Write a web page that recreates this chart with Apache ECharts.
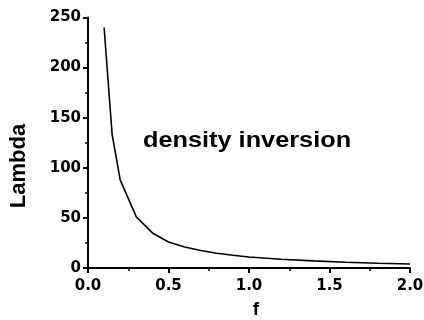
<!DOCTYPE html>
<html>
<head>
<meta charset="utf-8">
<script src="https://cdn.jsdelivr.net/npm/echarts@6/dist/echarts.min.js"></script>
<style>
html,body{margin:0;padding:0;background:#fff;}
#c{width:424px;height:320px;}
</style>
</head>
<body>
<div id="c"></div>
<script>
var fValues = [0.1, 0.15, 0.2, 0.3, 0.4, 0.5, 0.6, 0.7, 0.8, 0.9, 1.0, 1.2, 1.4, 1.6, 1.8, 2.0];
var lambdaValues = [240, 133, 88, 51, 35, 26, 21, 17.4, 14.8, 12.8, 11, 8.8, 7.1, 5.8, 4.8, 4];
var xTicks = [0, 0.5, 1.0, 1.5, 2.0];
var yTicks = [0, 50, 100, 150, 200, 250];
var annotation = 'density inversion';
var xTitle = 'f';
var yTitle = 'Lambda';

var chart = echarts.init(document.getElementById('c'), null, {renderer: 'canvas'});
var font = 'Liberation Sans, Arial, sans-serif';
var tickFont = 'DejaVu Sans, sans-serif';
var data = fValues.map(function (f, i) { return [f, lambdaValues[i]]; });

chart.setOption({
  animation: false,
  backgroundColor: '#fff',
  grid: {left: 88, right: 14, top: 17.5, bottom: 52, containLabel: false, outerBoundsMode: 'none'},
  xAxis: {
    type: 'value',
    min: xTicks[0], max: xTicks[xTicks.length - 1], interval: 0.5,
    name: xTitle, nameLocation: 'middle', nameGap: 32,
    nameTextStyle: {fontFamily: font, fontWeight: 'bold', fontSize: 19, color: '#000', padding: [0, 0, 0, 14]},
    axisLine: {show: true, onZero: false, lineStyle: {color: '#000', width: 2}},
    axisTick: {show: true, length: 5, lineStyle: {color: '#000', width: 2}},
    minorTick: {show: true, splitNumber: 2, length: 3, lineStyle: {color: '#000', width: 1.5}},
    splitLine: {show: false},
    axisLabel: {margin: 11, fontFamily: tickFont, fontWeight: 'bold', fontSize: 15, color: '#000',
      formatter: function (v) { return v.toFixed(1); }}
  },
  yAxis: {
    type: 'value',
    min: yTicks[0], max: yTicks[yTicks.length - 1], interval: 50,
    axisLine: {show: true, onZero: false, lineStyle: {color: '#000', width: 2}},
    axisTick: {show: true, length: 5, lineStyle: {color: '#000', width: 2}},
    minorTick: {show: true, splitNumber: 2, length: 3, lineStyle: {color: '#000', width: 1.5}},
    splitLine: {show: false},
    axisLabel: {margin: 7, fontFamily: tickFont, fontWeight: 'bold', fontSize: 15, color: '#000'}
  },
  series: [{
    type: 'line',
    data: data,
    showSymbol: false,
    smooth: false,
    lineStyle: {color: '#000', width: 1.6},
    itemStyle: {color: '#000'}
  }],
  graphic: [{
    type: 'text',
    left: 143, top: 130,
    scaleX: 1.15,
    style: {text: annotation, fontFamily: font, fontWeight: 'bold', fontSize: 22, fill: '#000'}
  }, {
    type: 'text',
    x: 18.5, y: 166,
    rotation: Math.PI / 2,
    style: {text: yTitle, fontFamily: font, fontWeight: 'bold', fontSize: 22, fill: '#000',
      align: 'center', verticalAlign: 'middle'}
  }]
});
</script>
</body>
</html>
